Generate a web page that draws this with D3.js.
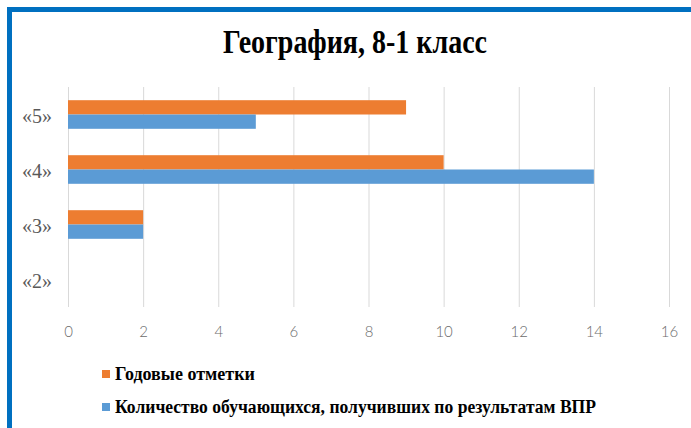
<!DOCTYPE html>
<html><head><meta charset="utf-8">
<script src="https://cdn.jsdelivr.net/npm/d3@7"></script>
<style>html,body{margin:0;padding:0;background:#fff;}svg{display:block;}</style>
</head><body>
<svg id="c" width="691" height="428"></svg>
<script>
const title = "География, 8-1 класс";
const categories = ["«5»", "«4»", "«3»", "«2»"];
const seriesNames = ["Годовые отметки", "Количество обучающихся, получивших по результатам ВПР"];
const annualMarks = [9, 10, 2, 0];
const vprResults = [5, 14, 2, 0];
const xTicks = [0, 2, 4, 6, 8, 10, 12, 14, 16];
const colors = ["#ED7D31", "#5B9BD5"];

(function () {
const svg = d3.select("#c");
const W = 691, H = 428;
svg.append("rect").attr("width", W).attr("height", H).attr("fill", "#fff");
// frame
svg.append("rect").attr("x", 9.5).attr("y", 9.5).attr("width", 900).attr("height", 900)
  .attr("fill", "none").attr("stroke", "#0070C0").attr("stroke-width", 5);

const pL = 68, pR = 669, pT = 87, pB = 307;
const x = d3.scaleLinear().domain([0, 16]).range([pL, pR]);
const y = d3.scaleBand().domain(categories).range([pT, pB]).paddingInner(0.48).paddingOuter(0.24);
const ySub = d3.scaleBand().domain([0, 1]).range([0, y.bandwidth()]);

// gridlines + ticks
const ax = svg.append("g").attr("transform", `translate(0,${pB})`)
  .call(d3.axisBottom(x).tickValues(xTicks).tickSize(-(pB - pT)).tickPadding(19));
ax.select(".domain").remove();
ax.selectAll(".tick line").attr("stroke", "#d9d9d9").attr("stroke-width", 1);
ax.selectAll(".tick text").attr("fill", "#6b6b6b").attr("font-family", "Lato, 'Open Sans', sans-serif")
  .attr("font-size", 15).attr("font-weight", 300);

// bars
const data = categories.map((c, i) => ({ c, v: [annualMarks[i], vprResults[i]] }));
const g = svg.append("g");
data.forEach(d => {
  d.v.forEach((v, j) => {
    if (v <= 0) return;
    g.append("rect")
      .attr("x", x(0)).attr("y", y(d.c) + ySub(j))
      .attr("width", x(v) - x(0)).attr("height", ySub.bandwidth())
      .attr("fill", colors[j]);
  });
});

// category labels
svg.append("g").selectAll("text").data(categories).join("text")
  .attr("x", 52).attr("y", d => y(d) + y.bandwidth() / 2 + 1)
  .attr("text-anchor", "end").attr("dominant-baseline", "central")
  .attr("font-family", "'Liberation Serif', 'Times New Roman', serif")
  .attr("font-size", 20).attr("fill", "#595959")
  .attr("textLength", 30).attr("lengthAdjust", "spacingAndGlyphs")
  .text(d => d);

// title
svg.append("text").attr("x", 223).attr("y", 53)
  .attr("font-family", "'Liberation Serif', 'Times New Roman', serif")
  .attr("font-weight", "bold").attr("font-size", 33).attr("fill", "#000")
  .attr("textLength", 264).attr("lengthAdjust", "spacingAndGlyphs")
  .text(title);

// legend
const legY = [374, 407];
const legW = [140, 481];
seriesNames.forEach((n, i) => {
  svg.append("rect").attr("x", 102).attr("y", legY[i] - 4).attr("width", 8).attr("height", 8).attr("fill", colors[i]);
  svg.append("text").attr("x", 115).attr("y", legY[i] + 6)
    .attr("font-family", "'Liberation Serif', 'Times New Roman', serif")
    .attr("font-weight", "bold").attr("font-size", 18).attr("fill", "#000")
    .attr("textLength", legW[i]).attr("lengthAdjust", "spacingAndGlyphs")
    .text(n);
});
})();
</script>
</body></html>
